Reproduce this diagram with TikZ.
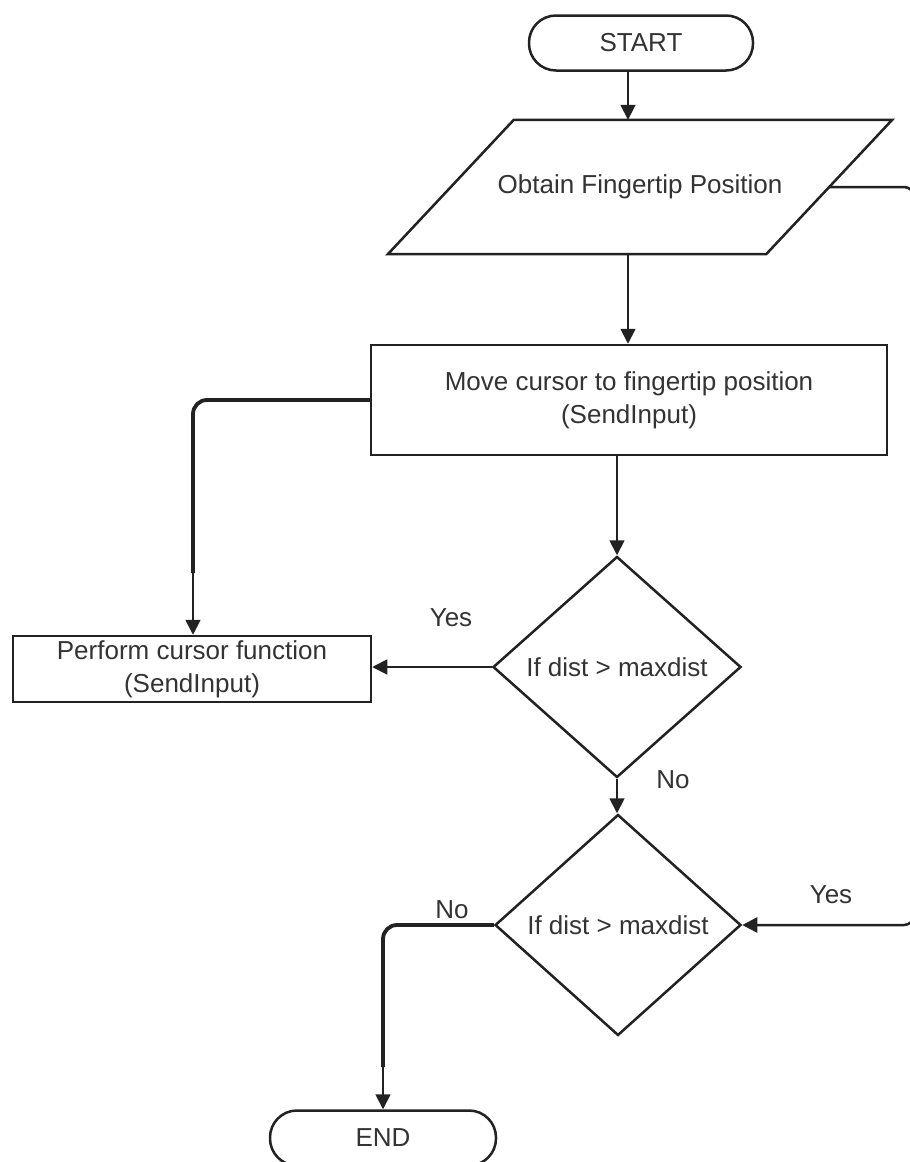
\documentclass[tikz,border=0pt]{standalone}
\usepackage{fontspec}
\setmainfont{Liberation Sans}
\usetikzlibrary{arrows.meta,shapes.geometric}
\definecolor{ink}{HTML}{222222}
\definecolor{txt}{HTML}{333333}
\tikzset{
  every node/.style={font=\fontsize{26}{33}\selectfont, text=txt},
  box/.style={draw=ink, line width=2.5pt, rectangle, align=center, inner sep=0pt},
  term/.style={draw=ink, line width=2.5pt, rectangle, rounded corners=27pt, inner sep=0pt},
  decide/.style={draw=ink, line width=2.5pt, diamond, inner sep=0pt},
  arr/.style={draw=ink, line width=1.8pt, -{Triangle[length=15pt,width=15pt]}},
  thickline/.style={draw=ink, line width=3.8pt},
  lbl/.style={inner sep=0pt}
}
\begin{document}
\begin{tikzpicture}[x=1pt,y=-1pt]
\useasboundingbox (0,0) rectangle (910,1162);
\clip (0,0) rectangle (910,1162);
\fill[white] (0,0) rectangle (910,1162);

% nodes
\node[term, minimum width=224pt, minimum height=55pt] (start) at (641,43) {START};
\node[rectangle, inner sep=0pt, minimum width=378pt, minimum height=134pt] (obt) at (640,187) {Obtain Fingertip Position};
\draw[draw=ink, line width=2.5pt, line join=miter] ([xshift=63pt]obt.north west) -- ([xshift=63pt]obt.north east) -- ([xshift=-63pt]obt.south east) -- ([xshift=-63pt]obt.south west) -- cycle;
\node[box, minimum width=516pt, minimum height=110pt] (move) at (629,400) {Move cursor to fingertip position\\(SendInput)};
\node[box, minimum width=358pt, minimum height=66pt] (perf) at (192,669) {Perform cursor function\\(SendInput)};
\node[decide, minimum width=248pt, minimum height=221pt] (d1) at (617,667) {If dist > maxdist};
\node[decide, minimum width=246pt, minimum height=221pt] (d2) at (618,925) {If dist > maxdist};
\node[term, minimum width=226pt, minimum height=55pt] (end) at (383,1138) {END};

% labels
\node[lbl] (yes1) at (451,618) {Yes};
\node[lbl] (no1) at (673,780) {No};
\node[lbl] (no2) at (452,910) {No};
\node[lbl] (yes2) at (831,895) {Yes};

% connectors
\draw[arr] ([xshift=-13pt]start.south) -- ([xshift=-13pt]start.south |- obt.north);
\draw[arr] ([xshift=-12pt]obt.south) -- ([xshift=-12pt]obt.south |- move.north);
\draw[arr] (d1.north |- move.south) -- (d1.north);
\draw[arr] (d1.south) -- (d1.south |- d2.north);
\draw[arr] (d1.west) -- (d1.west -| perf.east);

\coordinate (k1) at (193,573);
\draw[thickline, rounded corners=14pt] (move.west) -| (k1);
\draw[arr] (k1) -- (k1 |- perf.north);

\coordinate (k2) at (383,1067);
\draw[thickline, rounded corners=14pt] (d2.west) -| (k2);
\draw[arr] (k2) -- (k2 |- end.north);

\coordinate (loopx) at (914,0);
\draw[arr, line width=2.5pt, rounded corners=10pt] (obt.east) -- (obt.east -| loopx) -- (loopx |- d2.east) -- (d2.east);
\end{tikzpicture}
\end{document}
